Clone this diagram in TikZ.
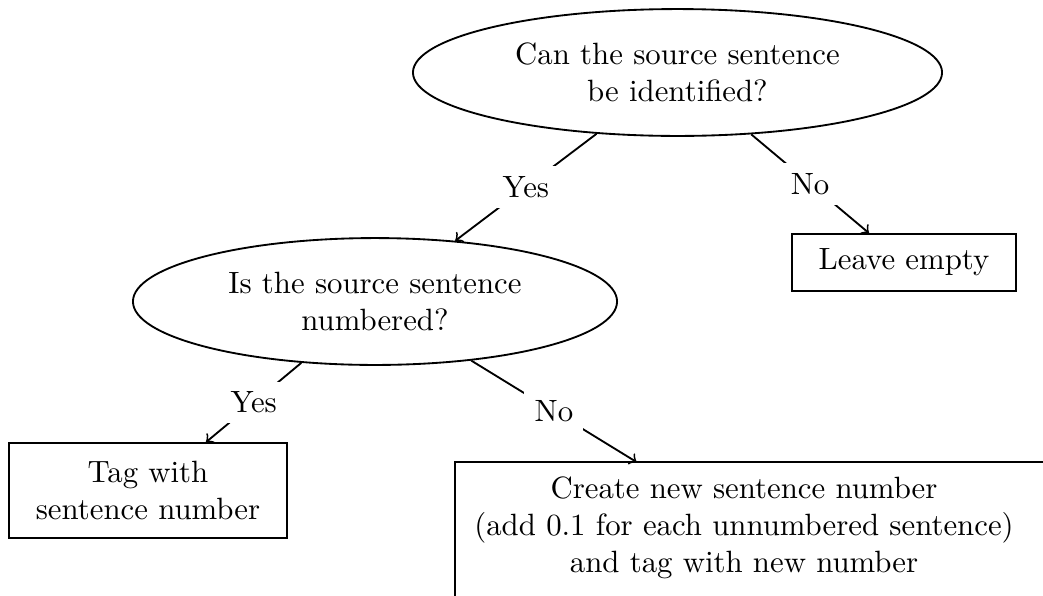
\documentclass[tikz,border=0pt]{standalone}
\usetikzlibrary{shapes.geometric,calc}
\begin{document}
\begin{tikzpicture}[x=0.3247pt,y=-0.3247pt,
  line width=0.6pt,
  question/.style={draw,ellipse,inner sep=0pt,align=center,minimum height=41.2pt},
  answer/.style={draw,rectangle,inner sep=0pt,align=center},
  conn/.style={->},
  lbl/.style={midway,fill=white}]
\path[use as bounding box,clip] (0,0) rectangle (1043,595);
\node[question,minimum width=171.8pt] (q1) at (677.5,72.5) {Can the source sentence\\be identified?};
\node[question,minimum width=157.2pt] (q2) at (375,301.5) {Is the source sentence\\numbered?};
\node[answer,minimum width=72.7pt,minimum height=18.5pt] (leave) at (904,262.5) {Leave empty};
\node[answer,minimum width=90.3pt,minimum height=30.8pt] (tag) at (148,490.5) {Tag with\\sentence number};
\node[rectangle,inner sep=0pt,align=center,minimum width=187pt,minimum height=42.2pt] (create) at (744,528)
  {Create new sentence number\\(add 0.1 for each unnumbered sentence)\\and tag with new number};
\draw ($(create.north west)+(0,200)$) -- (create.north west) -- ($(create.north east)+(200,0)$);
\draw[conn] (q1) -- node[lbl] {Yes} (q2);
\draw[conn] (q1) -- node[lbl] {No} (leave);
\draw[conn] (q2) -- node[lbl] {Yes} (tag);
\draw[conn] (q2) -- node[lbl] {No} (create);
\end{tikzpicture}
\end{document}
